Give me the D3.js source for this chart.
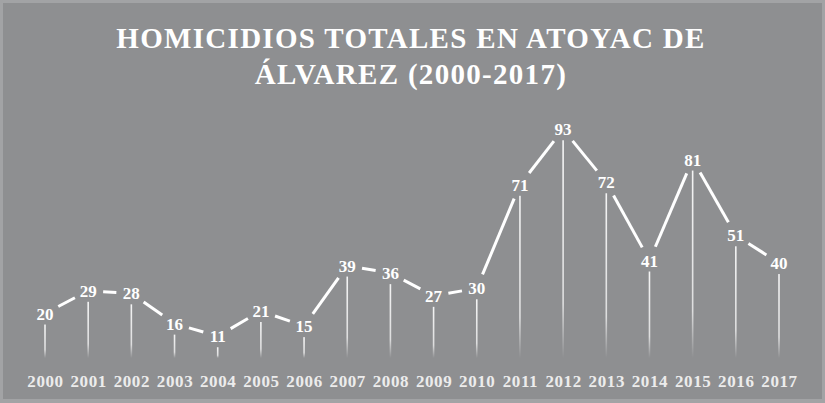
<!DOCTYPE html>
<html><head><meta charset="utf-8">
<script src="https://cdn.jsdelivr.net/npm/d3@7"></script>
<style>html,body{margin:0;padding:0;background:#a2a3a5;}svg{display:block;}</style>
</head><body>
<script>
const years = ["2000","2001","2002","2003","2004","2005","2006","2007","2008","2009","2010","2011","2012","2013","2014","2015","2016","2017"];
const homicidios = [20,29,28,16,11,21,15,39,36,27,30,71,93,72,41,81,51,40];
const titleLines = ["HOMICIDIOS TOTALES EN ATOYAC DE","ÁLVAREZ (2000-2017)"];

const W = 825, H = 403;
const svg = d3.select("body").append("svg").attr("width", W).attr("height", H);
const defs = svg.append("defs");
const grad = defs.append("linearGradient").attr("id","fade").attr("x1",0).attr("y1",0).attr("x2",0).attr("y2",1);
grad.append("stop").attr("offset","0%").attr("stop-color","#ffffff").attr("stop-opacity",0.9);
grad.append("stop").attr("offset","75%").attr("stop-color","#ffffff").attr("stop-opacity",0.7);
grad.append("stop").attr("offset","100%").attr("stop-color","#ffffff").attr("stop-opacity",0);

svg.append("rect").attr("x",0).attr("y",0).attr("width",W).attr("height",H).attr("fill","#a2a3a5");
svg.append("rect").attr("x",3).attr("y",3).attr("width",W-6).attr("height",H-7).attr("fill","#8e8f91");

const font = "'Liberation Serif','Times New Roman',serif";
svg.append("g").selectAll("text").data(titleLines).join("text")
  .attr("x", 411).attr("y",(d,i)=>48+i*36)
  .attr("text-anchor","middle").attr("fill","#ffffff")
  .attr("font-family",font).attr("font-weight","bold").attr("font-size",29)
  .attr("letter-spacing",1.3)
  .text(d=>d);

const x = d3.scalePoint().domain(years).range([45,779]);
const y = d3.scaleLinear().domain([0,100]).range([364,111.6]);
const base = 358;
const pts = years.map((yr,i)=>({yr, v:homicidios[i], x:x(yr), y:y(homicidios[i])}));

svg.append("g").selectAll("rect").data(pts).join("rect")
  .attr("x",d=>d.x-0.8).attr("width",1.6)
  .attr("y",d=>d.y+11).attr("height",d=>base-(d.y+11))
  .attr("fill","url(#fade)");

const gap = 15;
const segs = d3.pairs(pts).map(([a,b])=>{
  const dx=b.x-a.x, dy=b.y-a.y, L=Math.hypot(dx,dy);
  const ux=dx/L, uy=dy/L;
  return {x1:a.x+ux*gap, y1:a.y+uy*gap, x2:b.x-ux*gap, y2:b.y-uy*gap};
});
svg.append("g").selectAll("line").data(segs).join("line")
  .attr("x1",d=>d.x1).attr("y1",d=>d.y1).attr("x2",d=>d.x2).attr("y2",d=>d.y2)
  .attr("stroke","#ffffff").attr("stroke-width",3);

svg.append("g").selectAll("text").data(pts).join("text")
  .attr("x",d=>d.x).attr("y",d=>d.y+6)
  .attr("text-anchor","middle").attr("fill","#ffffff")
  .attr("font-family",font).attr("font-weight","bold").attr("font-size",17)
  .text(d=>d.v);

const xAxis = d3.axisBottom(x).tickSize(0).tickPadding(0);
const gx = svg.append("g").attr("transform","translate(0,375)").call(xAxis);
gx.select(".domain").remove();
gx.selectAll("text").attr("fill","#ececec").attr("font-family",font)
  .attr("font-weight","bold").attr("font-size",17).attr("letter-spacing",0.6).attr("dy","0.71em");
</script>
</body></html>
